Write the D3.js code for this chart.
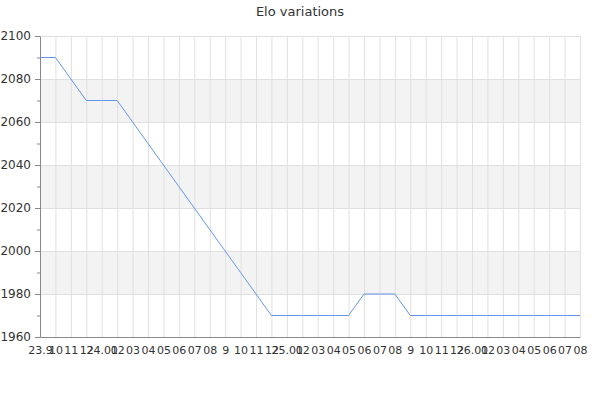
<!DOCTYPE html>
<html>
<head>
<meta charset="utf-8">
<script src="https://cdn.jsdelivr.net/npm/d3@7"></script>
<style>
 body{margin:0;background:#fff;}
 text{font-family:"DejaVu Sans",sans-serif;}
</style>
</head>
<body>
<svg id="svg" width="600" height="400"></svg>
<script>
var tickLabels=["23.9","10","11","12","24.01","02","03","04","05","06","07","08","9","10","11","12",
 "25.01","02","03","04","05","06","07","08","9","10","11","12","26.01","02","03","04","05","06","07","08"];
var elo=[2090,2090,2080,2070,2070,2070,2060,2050,2040,2030,2020,2010,2000,1990,1980,1970,
 1970,1970,1970,1970,1970,1980,1980,1980,1970,1970,1970,1970,1970,1970,1970,1970,1970,1970,1970,1970];
var yTicks=[1960,1980,2000,2020,2040,2060,2080,2100];
var bands=[[2060,2080],[2020,2040],[1980,2000]];

var svg=d3.select("#svg");
var padding={top:36,right:20,bottom:63,left:40};
var chartArea={width:600-padding.left-padding.right,height:400-padding.top-padding.bottom};

var idx=d3.range(elo.length);
var xScale=d3.scalePoint().domain(idx).range([0,chartArea.width]);
var yScale=d3.scaleLinear().domain([1960,2100]).range([chartArea.height,0]);

var g=svg.append("g").attr("transform","translate("+padding.left+","+padding.top+")");

// bands
g.selectAll("rect.band").data(bands).enter().append("rect")
 .attr("class","band")
 .attr("x",0).attr("width",chartArea.width)
 .attr("y",function(d){return yScale(d[1]);})
 .attr("height",function(d){return yScale(d[0])-yScale(d[1]);})
 .attr("fill","#f3f3f3");

// grid
g.append("g")
 .call(d3.axisLeft(yScale).tickValues(yTicks).tickSize(-chartArea.width).tickFormat(""))
 .call(function(s){s.select(".domain").remove();s.selectAll("line").attr("stroke","#e0e0e0");});
g.append("g")
 .call(d3.axisBottom(xScale).tickSize(chartArea.height).tickFormat(""))
 .call(function(s){s.select(".domain").remove();s.selectAll("line").attr("stroke","#e0e0e0");});

// line
g.append("path").datum(elo)
 .attr("fill","none").attr("stroke","#6495ed").attr("stroke-width",1)
 .attr("d",d3.line().x(function(d,i){return xScale(i);}).y(function(d){return yScale(d);}));

// y axis minor + major
g.append("g")
 .call(d3.axisLeft(yScale).tickValues(d3.range(1970,2100,20)).tickSize(3).tickFormat(""))
 .call(function(s){s.select(".domain").remove();s.selectAll("line").attr("stroke","#888");});
g.append("g")
 .call(d3.axisLeft(yScale).tickValues(yTicks).tickSize(5).tickSizeOuter(0).tickPadding(4)
   .tickFormat(d3.format("d")))
 .call(function(s){
   s.select(".domain").attr("stroke","#888");
   s.selectAll("line").attr("stroke","#888");
   s.selectAll("text").attr("fill","#333").style("font-size","12px").style("font-family","DejaVu Sans");
 });

// x axis
g.append("g")
 .attr("transform","translate(0,"+chartArea.height+")")
 .call(d3.axisBottom(xScale).tickSize(0).tickSizeOuter(0).tickPadding(9)
   .tickFormat(function(d){return tickLabels[d];}))
 .call(function(s){
   s.select(".domain").attr("stroke","#888");
   s.selectAll("text").attr("fill","#333").style("font-size","11px").style("font-family","DejaVu Sans");
 });

svg.append("text").attr("x",300).attr("y",16).attr("text-anchor","middle")
 .attr("fill","#333").style("font-size","13px").text("Elo variations");
</script>
</body>
</html>
